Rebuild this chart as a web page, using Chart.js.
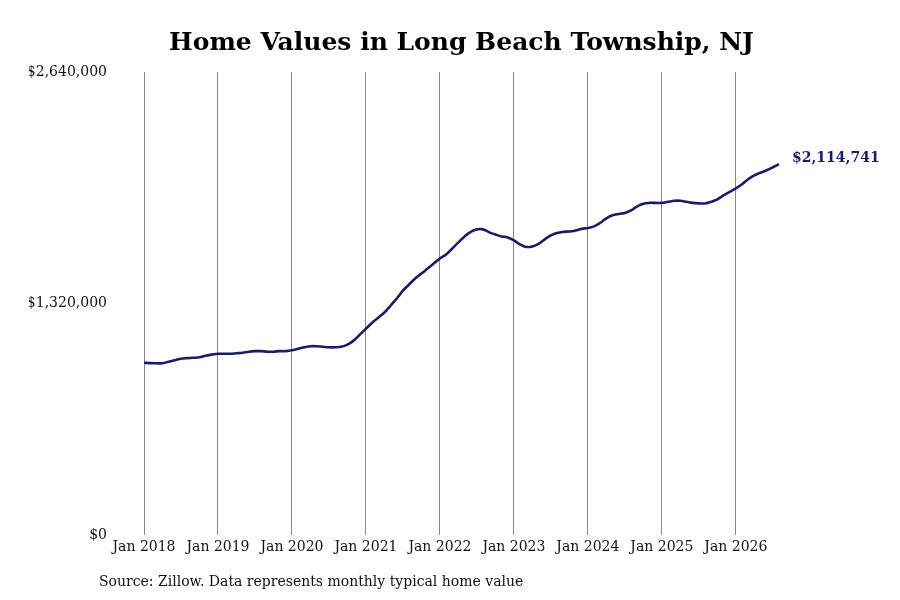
<!DOCTYPE html>
<html>
<head>
<meta charset="utf-8">
<script src="https://cdn.jsdelivr.net/npm/chart.js@4.4.0/dist/chart.umd.min.js"></script>
<style>
    html, body { margin: 0; padding: 0; background: #fff; }
    #wrap { position: relative; width: 900px; height: 600px; }
    #source {
        position: absolute; left: 99px; top: 573px;
        font-family: 'DejaVu Serif', serif; font-size: 14px; color: #111;
    }
</style>
</head>
<body>
<div id="wrap">
    <canvas id="chart" width="900" height="600"></canvas>
    <div id="source">Source: Zillow. Data represents monthly typical home value</div>
</div>
<script>
// anni e mesi per le etichette dell'asse x
const years = [2018, 2019, 2020, 2021, 2022, 2023, 2024, 2025, 2026];
const monthNames = ['Jan', 'Feb', 'Mar', 'Apr', 'May', 'Jun', 'Jul', 'Aug', 'Sep', 'Oct', 'Nov', 'Dec'];

// valori mensili (Jan 2018 - Aug 2026)
const homeValues = [
    983000, 981000, 980000, 980000, 989000, 997000, 1006000, 1009000, 1011000, 1014000, 1023000, 1029000,
    1034000, 1034000, 1034000, 1037000, 1040000, 1046000, 1049000, 1049000, 1046000, 1046000, 1049000, 1049000,
    1054000, 1063000, 1071000, 1077000, 1077000, 1074000, 1071000, 1071000, 1074000, 1086000, 1109000, 1143000,
    1177000, 1211000, 1240000, 1269000, 1309000, 1349000, 1394000, 1429000, 1463000, 1491000, 1520000, 1549000,
    1577000, 1600000, 1634000, 1669000, 1703000, 1729000, 1743000, 1743000, 1726000, 1714000, 1703000, 1697000,
    1680000, 1657000, 1643000, 1646000, 1660000, 1686000, 1709000, 1723000, 1729000, 1731000, 1737000, 1746000,
    1751000, 1760000, 1780000, 1806000, 1823000, 1831000, 1837000, 1851000, 1874000, 1889000, 1894000, 1894000,
    1894000, 1900000, 1906000, 1906000, 1900000, 1894000, 1891000, 1891000, 1900000, 1914000, 1937000, 1957000,
    1977000, 2000000, 2029000, 2051000, 2066000, 2080000, 2097000, 2114741
];

const yTicks = [0, 1320000, 2640000];
const lastLabel = '$2,114,741';

const labels = [];
years.forEach(y => monthNames.forEach(m => labels.push(m + ' ' + y)));
labels.length = homeValues.length;

const navy = '#1b1b68';

// scrive il valore finale accanto all'ultimo punto
const lastValuePlugin = {
    id: 'lastValue',
    afterDatasetsDraw(chart) {
        const meta = chart.getDatasetMeta(0);
        const pt = meta.data[meta.data.length - 1];
        const ctx = chart.ctx;
        ctx.save();
        ctx.font = 'bold 14px "DejaVu Serif"';
        ctx.fillStyle = navy;
        ctx.textAlign = 'left';
        ctx.textBaseline = 'middle';
        ctx.fillText(lastLabel, pt.x + 13, pt.y - 6);
        ctx.restore();
    }
};

new Chart(document.getElementById('chart'), {
    type: 'line',
    data: {
        labels: labels,
        datasets: [{
            data: homeValues,
            borderColor: navy,
            borderWidth: 2.6,
            pointRadius: 0,
            tension: 0.4,
            fill: false
        }]
    },
    options: {
        responsive: false,
        animation: false,
        layout: { padding: { left: 29, right: 121, top: 0, bottom: 40 } },
        plugins: {
            legend: { display: false },
            tooltip: { enabled: false },
            title: {
                display: true,
                text: 'Home Values in Long Beach Township, NJ',
                fullSize: false,
                color: '#000',
                font: { family: 'DejaVu Serif', size: 25, weight: 'bold' },
                padding: { top: 28, bottom: 14 }
            }
        },
        scales: {
            x: {
                type: 'category',
                offset: false,
                border: { display: false },
                grid: {
                    drawTicks: false,
                    lineWidth: 1,
                    color: c => (c.index % 12 === 0 ? '#8a8a8a' : 'rgba(0,0,0,0)')
                },
                ticks: {
                    autoSkip: false,
                    maxRotation: 0,
                    padding: 4,
                    color: '#111',
                    font: { family: 'DejaVu Serif', size: 14 },
                    callback: function (v, i) { return i % 12 === 0 ? this.getLabelForValue(v) : ''; }
                }
            },
            y: {
                min: yTicks[0],
                max: yTicks[yTicks.length - 1],
                border: { display: false },
                grid: { display: false, drawTicks: false },
                afterBuildTicks: axis => { axis.ticks = yTicks.map(v => ({ value: v })); },
                afterFit: axis => { axis.width = 115; },
                ticks: {
                    padding: 37,
                    color: '#111',
                    font: { family: 'DejaVu Serif', size: 14 },
                    callback: v => '$' + v.toLocaleString('en-US')
                }
            }
        }
    },
    plugins: [lastValuePlugin]
});
</script>
</body>
</html>
